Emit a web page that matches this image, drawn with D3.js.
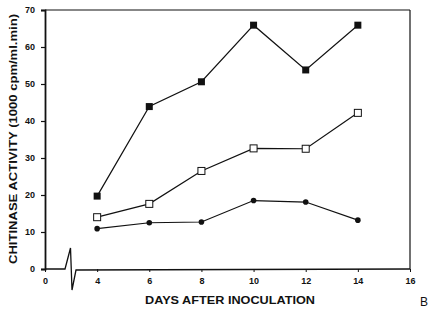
<!DOCTYPE html>
<html>
<head>
<meta charset="utf-8">
<script src="https://cdn.jsdelivr.net/npm/d3@7"></script>
<style>
  body { margin: 0; background: #fff; }
  text { font-family: "Liberation Sans", Arial, sans-serif; font-weight: bold; fill: #111; }
</style>
</head>
<body>
<div id="chart"></div>
<script>
// data
var days = [4, 6, 8, 10, 12, 14];
var filledSquares = [19.7, 43.9, 50.6, 65.9, 53.8, 65.9];
var openSquares = [14.0, 17.6, 26.5, 32.6, 32.5, 42.2];
var filledCircles = [10.9, 12.5, 12.7, 18.5, 18.1, 13.2];

// x axis is broken: "0" sits where 2 would be
var xTickValues = [2, 4, 6, 8, 10, 12, 14, 16];
var xTickLabels = ["0", "4", "6", "8", "10", "12", "14", "16"];
var yTickValues = [0, 10, 20, 30, 40, 50, 60, 70];

const width = 433;
const height = 310;

var svg = d3.select("#chart").append("svg")
    .attr("width", width)
    .attr("height", height);

var x = d3.scaleLinear().domain([2, 16]).range([45, 410]);
var y = d3.scaleLinear().domain([0, 70]).range([269, 10]);

// frame top and right
svg.append("line").attr("x1", x(2)).attr("x2", x(16)).attr("y1", y(70)).attr("y2", y(70))
    .attr("stroke", "#111").attr("stroke-width", 1.2);
svg.append("line").attr("x1", x(16)).attr("x2", x(16)).attr("y1", y(70)).attr("y2", y(0))
    .attr("stroke", "#111").attr("stroke-width", 1.2);

// y axis
var yAxis = d3.axisLeft(y).tickValues(yTickValues).tickSize(4).tickPadding(6);
var gy = svg.append("g").attr("transform", "translate(" + x(2) + ",0)").call(yAxis);
gy.select(".domain").attr("stroke", "#111").attr("stroke-width", 1.8);
gy.selectAll(".tick line").attr("stroke", "#111").attr("stroke-width", 1.2);
gy.selectAll("text").style("font-size", "9px");

// x axis
var xAxis = d3.axisBottom(x).tickValues(xTickValues)
    .tickFormat(function(d, i) { return xTickLabels[i]; })
    .tickSize(3).tickPadding(6);
var gx = svg.append("g").attr("transform", "translate(0," + y(0) + ")").call(xAxis);
gx.select(".domain").remove();
gx.selectAll(".tick line").attr("stroke", "#111").attr("stroke-width", 1);
gx.selectAll("text").style("font-size", "9px");

// axis line with break
var brk = [[x(2), y(0)], [65, y(0)], [70.5, y(0) - 21], [72, y(0) + 21], [76, y(0) + 1], [x(16), y(0)]];
svg.append("path").attr("d", d3.line()(brk))
    .attr("fill", "none").attr("stroke", "#111").attr("stroke-width", 1.3);

// series
var line = d3.line()
    .x(function(d) { return x(d[0]); })
    .y(function(d) { return y(d[1]); });

function zip(vals) { return days.map(function(d, i) { return [d, vals[i]]; }); }

[filledSquares, openSquares, filledCircles].forEach(function(vals) {
    svg.append("path").attr("d", line(zip(vals)))
        .attr("fill", "none").attr("stroke", "#111").attr("stroke-width", 1.2);
});

svg.selectAll(".fsq").data(zip(filledSquares)).enter().append("rect")
    .attr("x", function(d) { return x(d[0]) - 3.5; })
    .attr("y", function(d) { return y(d[1]) - 3.5; })
    .attr("width", 7).attr("height", 7).attr("fill", "#111");

svg.selectAll(".osq").data(zip(openSquares)).enter().append("rect")
    .attr("x", function(d) { return x(d[0]) - 3.5; })
    .attr("y", function(d) { return y(d[1]) - 3.5; })
    .attr("width", 7).attr("height", 7).attr("fill", "#fff")
    .attr("stroke", "#111").attr("stroke-width", 1);

svg.selectAll(".fc").data(zip(filledCircles)).enter().append("circle")
    .attr("cx", function(d) { return x(d[0]); })
    .attr("cy", function(d) { return y(d[1]); })
    .attr("r", 2.8).attr("fill", "#111");

// labels
svg.append("text")
    .attr("transform", "translate(17,139) rotate(-90)")
    .attr("text-anchor", "middle")
    .attr("textLength", 250).attr("lengthAdjust", "spacingAndGlyphs")
    .style("font-size", "10px")
    .text("CHITINASE ACTIVITY (1000 cpm/ml.min)");

svg.append("text")
    .attr("x", 230).attr("y", 304)
    .attr("text-anchor", "middle")
    .attr("textLength", 170).attr("lengthAdjust", "spacingAndGlyphs")
    .style("font-size", "10px")
    .text("DAYS AFTER INOCULATION");

svg.append("text")
    .attr("x", 420).attr("y", 306)
    .style("font-size", "12px").style("font-weight", "normal")
    .text("B");
</script>
</body>
</html>
